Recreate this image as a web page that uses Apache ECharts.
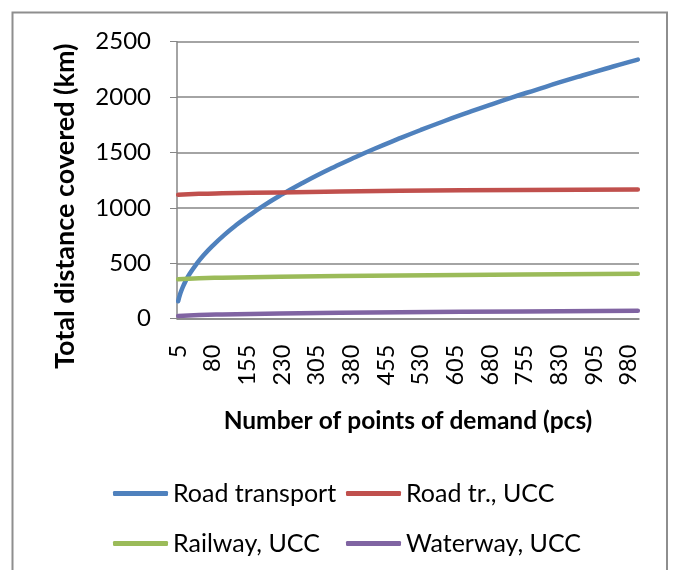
<!DOCTYPE html>
<html><head><meta charset="utf-8">
<script src="https://cdn.jsdelivr.net/npm/echarts@6/dist/echarts.min.js"></script>
<style>html,body{margin:0;padding:0;background:#fff}#c{width:674px;height:570px}</style>
</head><body><div id="c"></div>
<script>
// x categories: number of points of demand, 5..1000 step 5
const categories = [];
for (let v = 5; v <= 1000; v += 5) categories.push(String(v));

const roadX = [5,10,15,20,30,45,60,80,105,130,155,190,230,270,305,345,380,430,480,530,580,630,680,730,780,830,880,930,980,1000];
const roadTransport = [158,232,285,330,405,495,572,660,757,843,920,1020,1122,1215,1292,1374,1442,1534,1620,1703,1782,1857,1930,2000,2066,2132,2195,2256,2316,2338];

const uccX = [5,50,100,225,485,750,1000];
const roadUCC = [1118,1127,1132,1140,1154,1161,1166];
const railUCC = [355,365,370,379,390,399,405];
const waterUCC = [25,33,38,47,58,66,72];

const yTicks = { min: 0, max: 2500, interval: 500 };

function pairs(xs, ys) {
  return xs.map((x, i) => [categories.indexOf(String(x)), ys[i]]);
}

const FONT = 'Lato';
const chart = echarts.init(document.getElementById('c'));
const lineS = (name, color, xs, ys) => ({
  name, type: 'line', smooth: true, symbol: 'none', color,
  lineStyle: { width: 4.5, color, cap: 'round' },
  data: pairs(xs, ys), animation: false
});
const legendItem = (name, left, top) => ({
  left, top, itemWidth: 55, itemHeight: 5, icon: 'roundRect', data: [name],
  textStyle: { fontFamily: FONT, fontSize: 25, color: '#000' }
});
chart.setOption({
  backgroundColor: '#fff',
  animation: false,
  grid: { left: 177, right: 35, top: 41.7, bottom: 251.3, containLabel: false },
  graphic: [{
    type: 'rect', shape: { x: 12.5, y: 12.5, width: 654.5, height: 600 },
    style: { fill: 'none', stroke: '#8E8E8E', lineWidth: 2 }, silent: true
  }],
  legend: [
    legendItem('Road transport', 108, 476),
    legendItem('Road tr., UCC', 341, 476),
    legendItem('Railway, UCC', 108, 526),
    legendItem('Waterway, UCC', 341, 526)
  ],
  xAxis: {
    type: 'category', data: categories, boundaryGap: true,
    name: 'Number of points of demand (pcs)', nameLocation: 'middle', nameGap: 90,
    nameTextStyle: { fontFamily: FONT, fontSize: 24.5, fontWeight: 'bold', color: '#000' },
    axisLine: { lineStyle: { color: '#868686', width: 1.5 } },
    axisTick: { interval: 0, length: 8, lineStyle: { color: '#9a9a9a', width: 1 } },
    axisLabel: { interval: 14, rotate: 90, margin: 26, fontFamily: FONT, fontSize: 23.5, color: '#000' },
    splitLine: { show: false }
  },
  yAxis: {
    type: 'value', min: yTicks.min, max: yTicks.max, interval: yTicks.interval,
    name: 'Total distance covered (km)', nameLocation: 'middle', nameGap: 98, nameRotate: 90,
    nameTextStyle: { fontFamily: FONT, fontSize: 27, fontWeight: 'bold', color: '#000', padding: [0, 52, 0, 0] },
    axisLine: { show: true, lineStyle: { color: '#868686', width: 1.5 } },
    axisTick: { show: true, length: 7, lineStyle: { color: '#868686' } },
    axisLabel: { margin: 26, fontFamily: FONT, fontSize: 24, color: '#000', formatter: (v) => String(v) },
    splitLine: { show: true, lineStyle: { color: '#868686', width: 1.5 } }
  },
  series: [
    lineS('Road transport', '#4F81BD', roadX, roadTransport),
    lineS('Road tr., UCC', '#C0504D', uccX, roadUCC),
    lineS('Railway, UCC', '#9BBB59', uccX, railUCC),
    lineS('Waterway, UCC', '#8064A2', uccX, waterUCC)
  ]
});
</script></body></html>
